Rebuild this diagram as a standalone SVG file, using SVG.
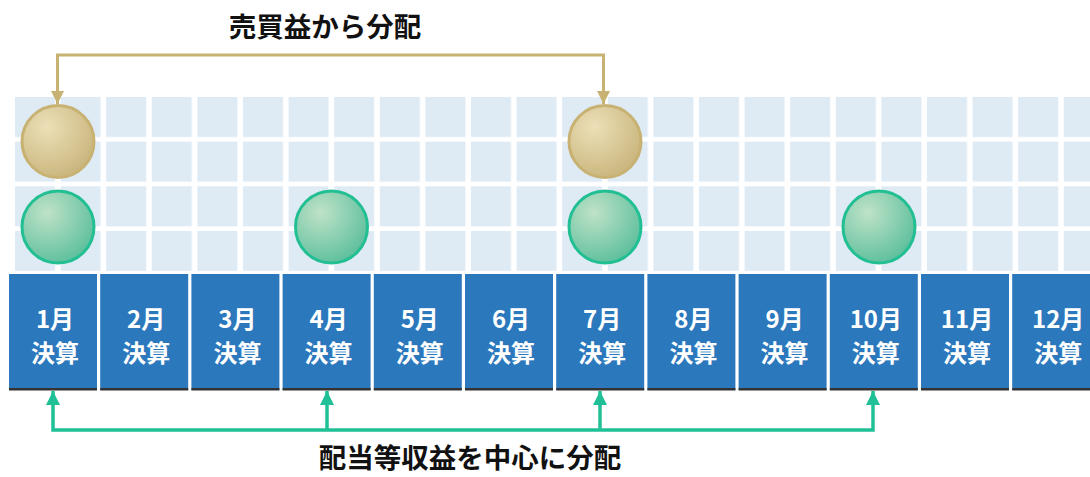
<svg xmlns="http://www.w3.org/2000/svg" width="1090" height="477" viewBox="0 0 1090 477">
  <defs>
    <pattern id="grid" patternUnits="userSpaceOnUse" x="15" y="97" width="45.6" height="44.67">
      <rect x="0" y="0" width="40" height="40" fill="#deeaf4"/>
    </pattern>
    <radialGradient id="gTan" cx="0.35" cy="0.3" r="0.75">
      <stop offset="0" stop-color="#ece0b8"/>
      <stop offset="1" stop-color="#c9b57c"/>
    </radialGradient>
    <radialGradient id="gGreen" cx="0.35" cy="0.3" r="0.75">
      <stop offset="0" stop-color="#bfe2c8"/>
      <stop offset="1" stop-color="#5cbf9c"/>
    </radialGradient>
    <marker id="aTan" viewBox="0 0 10 10" refX="10" refY="5" markerUnits="userSpaceOnUse" markerWidth="13" markerHeight="14" orient="auto-start-reverse">
      <path d="M0,0 L10,5 L0,10 z" fill="#c8b273"/>
    </marker>
    <marker id="aGreen" viewBox="0 0 10 10" refX="10" refY="5" markerUnits="userSpaceOnUse" markerWidth="14" markerHeight="15" orient="auto-start-reverse">
      <path d="M0,0 L10,5 L0,10 z" fill="#1fc096"/>
    </marker>
  </defs>
  <style>
    .box { fill: #2b78bd; }
    .shadow { fill: #333333; }
    .lbl { font-family: "Noto Sans CJK JP", "Noto Sans", sans-serif; font-weight: bold; font-size: 24px; fill: #ffffff; text-anchor: middle; }
    .title { font-family: "Noto Sans CJK JP", "Noto Sans", sans-serif; font-weight: bold; font-size: 27.5px; fill: #111111; text-anchor: middle; }
    .tan { fill: url(#gTan); stroke: #c8b273; stroke-width: 3; }
    .green { fill: url(#gGreen); stroke: #22bf93; stroke-width: 3; }
    .cTan { fill: none; stroke: #c8b273; stroke-width: 3; }
    .cGreen { fill: none; stroke: #1fc096; stroke-width: 3.5; }
  </style>
  <rect width="1090" height="477" fill="#ffffff"/>
  <rect id="grid-bg" x="15" y="97" width="1075" height="174" fill="url(#grid)"/>

  <g id="months">
    <g id="m1"><rect class="box" x="9" y="274" width="88" height="116"/><rect class="shadow" x="9" y="388" width="88" height="2.5"/><text class="lbl" x="55" y="328">1月</text><text class="lbl" x="55" y="362">決算</text></g>
    <g id="m2"><rect class="box" x="100.2" y="274" width="88" height="116"/><rect class="shadow" x="100.2" y="388" width="88" height="2.5"/><text class="lbl" x="146.2" y="328">2月</text><text class="lbl" x="146.2" y="362">決算</text></g>
    <g id="m3"><rect class="box" x="191.4" y="274" width="88" height="116"/><rect class="shadow" x="191.4" y="388" width="88" height="2.5"/><text class="lbl" x="237.4" y="328">3月</text><text class="lbl" x="237.4" y="362">決算</text></g>
    <g id="m4"><rect class="box" x="282.6" y="274" width="88" height="116"/><rect class="shadow" x="282.6" y="388" width="88" height="2.5"/><text class="lbl" x="328.6" y="328">4月</text><text class="lbl" x="328.6" y="362">決算</text></g>
    <g id="m5"><rect class="box" x="373.8" y="274" width="88" height="116"/><rect class="shadow" x="373.8" y="388" width="88" height="2.5"/><text class="lbl" x="419.8" y="328">5月</text><text class="lbl" x="419.8" y="362">決算</text></g>
    <g id="m6"><rect class="box" x="465" y="274" width="88" height="116"/><rect class="shadow" x="465" y="388" width="88" height="2.5"/><text class="lbl" x="511" y="328">6月</text><text class="lbl" x="511" y="362">決算</text></g>
    <g id="m7"><rect class="box" x="556.2" y="274" width="88" height="116"/><rect class="shadow" x="556.2" y="388" width="88" height="2.5"/><text class="lbl" x="602.2" y="328">7月</text><text class="lbl" x="602.2" y="362">決算</text></g>
    <g id="m8"><rect class="box" x="647.4" y="274" width="88" height="116"/><rect class="shadow" x="647.4" y="388" width="88" height="2.5"/><text class="lbl" x="693.4" y="328">8月</text><text class="lbl" x="693.4" y="362">決算</text></g>
    <g id="m9"><rect class="box" x="738.6" y="274" width="88" height="116"/><rect class="shadow" x="738.6" y="388" width="88" height="2.5"/><text class="lbl" x="784.6" y="328">9月</text><text class="lbl" x="784.6" y="362">決算</text></g>
    <g id="m10"><rect class="box" x="829.8" y="274" width="88" height="116"/><rect class="shadow" x="829.8" y="388" width="88" height="2.5"/><text class="lbl" x="875.8" y="328">10月</text><text class="lbl" x="875.8" y="362">決算</text></g>
    <g id="m11"><rect class="box" x="921" y="274" width="88" height="116"/><rect class="shadow" x="921" y="388" width="88" height="2.5"/><text class="lbl" x="967" y="328">11月</text><text class="lbl" x="967" y="362">決算</text></g>
    <g id="m12"><rect class="box" x="1012.2" y="274" width="88" height="116"/><rect class="shadow" x="1012.2" y="388" width="88" height="2.5"/><text class="lbl" x="1058.2" y="328">12月</text><text class="lbl" x="1058.2" y="362">決算</text></g>
  </g>

  <g id="circles">
    <circle id="tan1" class="tan" cx="58" cy="141.5" r="36"/>
    <circle id="tan7" class="tan" cx="605" cy="141.5" r="36"/>
    <circle id="green1" class="green" cx="58" cy="227" r="36"/>
    <circle id="green4" class="green" cx="331.5" cy="227" r="36"/>
    <circle id="green7" class="green" cx="605" cy="227" r="36"/>
    <circle id="green10" class="green" cx="879" cy="227" r="36"/>
  </g>

  <g id="connectors">
    <path class="cTan" d="M57.5 104 V55 H603.5 V104" marker-start="url(#aTan)" marker-end="url(#aTan)"/>
    <path class="cGreen" d="M53 391 V430 H873 V391" marker-start="url(#aGreen)" marker-end="url(#aGreen)"/>
    <path class="cGreen" d="M327 430 V391" marker-end="url(#aGreen)"/>
    <path class="cGreen" d="M600 430 V391" marker-end="url(#aGreen)"/>
  </g>

  <g id="labels">
    <text class="title" x="325" y="37">売買益から分配</text>
    <text class="title" x="470" y="468">配当等収益を中心に分配</text>
  </g>
</svg>
